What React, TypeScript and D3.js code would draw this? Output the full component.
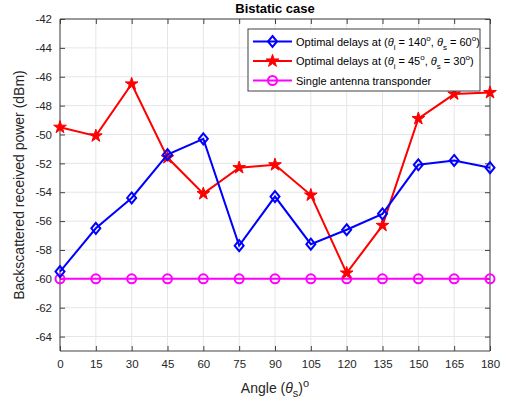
import React, { useRef, useEffect } from 'react';
import * as d3 from 'd3';

const angles = [0, 15, 30, 45, 60, 75, 90, 105, 120, 135, 150, 165, 180];
const blueSeries = [-59.5, -56.5, -54.4, -51.4, -50.3, -57.7, -54.3, -57.6, -56.6, -55.5, -52.1, -51.8, -52.3];
const redSeries = [-49.5, -50.1, -46.5, -51.6, -54.1, -52.3, -52.1, -54.2, -59.6, -56.3, -48.9, -47.2, -47.1];
const singleSeries = [-60, -60, -60, -60, -60, -60, -60, -60, -60, -60, -60, -60, -60];
const yTicks = [-64, -62, -60, -58, -56, -54, -52, -50, -48, -46, -44, -42];

const W = 510;
const H = 404;
const FONT = 'Liberation Sans, Arial, Helvetica, sans-serif';

const App = () => {
  const svgRef = useRef<SVGSVGElement>(null);

  useEffect(() => {
    const svg = d3.select(svgRef.current);
    svg.selectAll('*').remove();

    const left = 60, right = 490, top = 19, bottom = 351;
    const x = d3.scaleLinear().domain([0, 180]).range([left, right]);
    const y = d3.scaleLinear().domain([-65, -42]).range([bottom, top]);

    svg.append('rect').attr('width', W).attr('height', H).attr('fill', '#fff');

    // grid
    const grid = svg.append('g').attr('stroke', '#e6e6e6').attr('stroke-width', 1);
    angles.forEach((a) => {
      grid.append('line').attr('x1', x(a)).attr('x2', x(a)).attr('y1', top).attr('y2', bottom);
    });
    yTicks.forEach((t) => {
      grid.append('line').attr('x1', left).attr('x2', right).attr('y1', y(t)).attr('y2', y(t));
    });

    // axes
    const axisColor = '#404040';
    const xAxis = svg.append('g').attr('transform', `translate(0,${bottom})`)
      .call(d3.axisBottom(x).tickValues(angles).tickSize(-5).tickPadding(9).tickFormat((d) => String(d)));
    const xTop = svg.append('g').attr('transform', `translate(0,${top})`)
      .call(d3.axisTop(x).tickValues(angles).tickSize(-5).tickFormat(() => ''));
    const yAxis = svg.append('g').attr('transform', `translate(${left},0)`)
      .call(d3.axisLeft(y).tickValues(yTicks).tickSize(-5).tickPadding(8).tickFormat((d) => String(d)));
    const yRight = svg.append('g').attr('transform', `translate(${right},0)`)
      .call(d3.axisRight(y).tickValues(yTicks).tickSize(-5).tickFormat(() => ''));
    [xAxis, xTop, yAxis, yRight].forEach((g) => {
      g.select('.domain').attr('stroke', axisColor).attr('stroke-width', 1);
      g.selectAll('.tick line').attr('stroke', axisColor);
      g.selectAll('.tick text').attr('fill', '#262626').style('font-family', FONT).style('font-size', '11.5px');
    });
    yAxis.select('.domain').attr('d', `M0,${top}V${bottom}`);
    yRight.select('.domain').attr('d', `M0,${top}V${bottom}`);
    xAxis.select('.domain').attr('d', `M${left},0H${right}`);
    xTop.select('.domain').attr('d', `M${left},0H${right}`);

    const lineGen = d3.line<number>().x((_, i) => x(angles[i])).y((d) => y(d));

    const star = d3.symbol().type(d3.symbolStar).size(50);
    const diamond = 'M0,-5.5L4.5,0L0,5.5L-4.5,0Z';

    const drawMarker = (g: any, color: string, marker: string) => {
      if (marker === 'diamond') {
        g.append('path').attr('d', diamond).attr('fill', 'none').attr('stroke', color).attr('stroke-width', 2);
      } else if (marker === 'star') {
        g.append('path').attr('d', star()).attr('fill', color).attr('stroke', color).attr('stroke-width', 1);
      } else {
        g.append('circle').attr('r', 4.5).attr('fill', 'none').attr('stroke', color).attr('stroke-width', 2);
      }
    };

    const drawSeries = (vals: number[], color: string, marker: string) => {
      svg.append('path').datum(vals).attr('d', lineGen).attr('fill', 'none')
        .attr('stroke', color).attr('stroke-width', 2);
      vals.forEach((v, i) => {
        const g = svg.append('g').attr('transform', `translate(${x(angles[i])},${y(v)})`);
        drawMarker(g, color, marker);
      });
    };

    drawSeries(singleSeries, '#ff00ff', 'circle');
    drawSeries(redSeries, '#ff0000', 'star');
    drawSeries(blueSeries, '#0000ff', 'diamond');

    // title
    svg.append('text').text('Bistatic case').attr('x', (left + right) / 2).attr('y', 13)
      .attr('text-anchor', 'middle').style('font-family', FONT).style('font-size', '13px')
      .style('font-weight', 'bold').attr('fill', '#000');

    // x label
    const xl = svg.append('text').attr('x', (left + right) / 2).attr('y', 393)
      .attr('text-anchor', 'middle').style('font-family', FONT).style('font-size', '14px').attr('fill', '#262626');
    xl.append('tspan').text('Angle (');
    xl.append('tspan').text('θ').style('font-style', 'italic');
    xl.append('tspan').text('s').attr('dy', 4).style('font-size', '11px');
    xl.append('tspan').text(')').attr('dy', -4);
    xl.append('tspan').text('o').attr('dy', -6).style('font-size', '11px');

    // y label
    svg.append('text').text('Backscattered received power (dBm)')
      .attr('transform', `translate(24,${(top + bottom) / 2}) rotate(-90)`)
      .attr('text-anchor', 'middle').style('font-family', FONT).style('font-size', '14px').attr('fill', '#262626');

    // legend
    const lg = svg.append('g');
    lg.append('rect').attr('x', 248).attr('y', 29).attr('width', 232).attr('height', 62)
      .attr('fill', '#fff').attr('stroke', axisColor).attr('stroke-width', 1);
    const entries = [
      { color: '#0000ff', marker: 'diamond', a: '140', b: '60' },
      { color: '#ff0000', marker: 'star', a: '45', b: '30' },
      { color: '#ff00ff', marker: 'circle', a: '', b: '' },
    ];
    entries.forEach((e, i) => {
      const yy = 41.5 + i * 19.5;
      lg.append('line').attr('x1', 253).attr('x2', 292).attr('y1', yy).attr('y2', yy)
        .attr('stroke', e.color).attr('stroke-width', 2);
      const mg = lg.append('g').attr('transform', `translate(272.5,${yy})`);
      drawMarker(mg, e.color, e.marker);
      const t = lg.append('text').attr('x', 296).attr('y', yy + 4)
        .style('font-family', FONT).style('font-size', '11px').attr('fill', '#000');
      if (e.a) {
        t.append('tspan').text('Optimal delays at (');
        t.append('tspan').text('θ').style('font-style', 'italic');
        t.append('tspan').text('i').attr('dy', 4).style('font-size', '8px');
        t.append('tspan').text(` = ${e.a}`).attr('dy', -4);
        t.append('tspan').text('o').attr('dy', -5).style('font-size', '8px');
        t.append('tspan').text(', ').attr('dy', 5);
        t.append('tspan').text('θ').style('font-style', 'italic');
        t.append('tspan').text('s').attr('dy', 4).style('font-size', '8px');
        t.append('tspan').text(` = ${e.b}`).attr('dy', -4);
        t.append('tspan').text('o').attr('dy', -5).style('font-size', '8px');
        t.append('tspan').text(')').attr('dy', 5);
      } else {
        t.text('Single antenna transponder');
      }
    });
  }, []);

  return (
    <svg ref={svgRef} width={W} height={H}
      style={{ position: 'absolute', left: 0, top: 0, display: 'block' }} />
  );
};

export default App;
